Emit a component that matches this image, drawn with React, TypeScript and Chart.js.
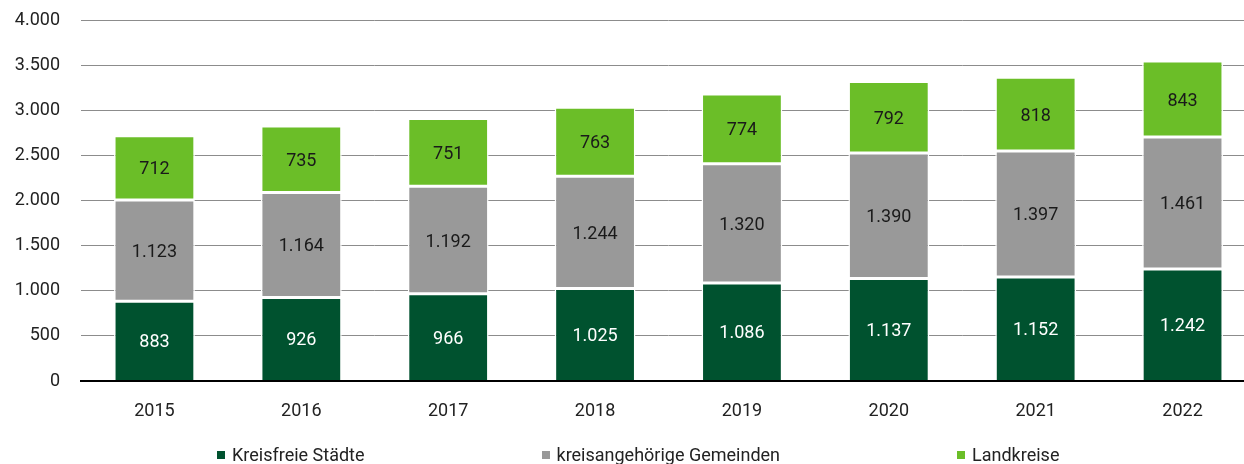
import React, { useEffect, useRef } from "react";
import { Chart, registerables } from "chart.js";

Chart.register(...registerables);

const years = ["2015", "2016", "2017", "2018", "2019", "2020", "2021", "2022"];
const kreisfreieStaedte = [883, 926, 966, 1025, 1086, 1137, 1152, 1242];
const kreisangehoerigeGemeinden = [1123, 1164, 1192, 1244, 1320, 1390, 1397, 1461];
const landkreise = [712, 735, 751, 763, 774, 792, 818, 843];
const seriesNames = ["Kreisfreie Städte", "kreisangehörige Gemeinden", "Landkreise"];
const seriesColors = ["#00522f", "#999999", "#6bbe28"];
const labelColors = ["#ffffff", "#1a1a1a", "#1a1a1a"];

const fmt = (v: number) => String(Math.round(v)).replace(/\B(?=(\d{3})+(?!\d))/g, ".");

const FONT = "Roboto, 'DejaVu Sans', sans-serif";

const dataLabelPlugin = {
  id: "segLabels",
  afterDatasetsDraw(chart: any) {
    const ctx = chart.ctx;
    ctx.save();
    ctx.font = `18px ${FONT}`;
    ctx.textAlign = "center";
    ctx.textBaseline = "middle";
    chart.data.datasets.forEach((ds: any, di: number) => {
      const meta = chart.getDatasetMeta(di);
      meta.data.forEach((bar: any, i: number) => {
        const y = (bar.y + bar.base) / 2;
        ctx.fillStyle = labelColors[di];
        ctx.fillText(fmt(ds.data[i]), bar.x, y + 2);
      });
    });
    ctx.restore();
  },
};

export default function App() {
  const ref = useRef<HTMLCanvasElement | null>(null);
  useEffect(() => {
    if (!ref.current) return;
    const chart = new Chart(ref.current, {
      type: "bar",
      data: {
        labels: years,
        datasets: [kreisfreieStaedte, kreisangehoerigeGemeinden, landkreise].map((d, i) => ({
          label: seriesNames[i],
          data: d,
          backgroundColor: seriesColors[i],
          borderColor: "#ffffff",
          borderWidth: 1.5,
          borderSkipped: i === 0 ? "bottom" : false,
          barPercentage: 0.55,
          categoryPercentage: 1,
        })),
      },
      options: {
        responsive: false,
        animation: false,
        maintainAspectRatio: false,
        layout: { autoPadding: false, padding: { left: 0, right: 0, top: 20, bottom: 43 } },
        plugins: { legend: { display: false }, title: { display: false }, tooltip: { enabled: false } },
        scales: {
          x: {
            stacked: true,
            grid: { display: false, drawTicks: false },
            border: { display: true, color: "#000000", width: 2, z: 1 },
            ticks: { color: "#222222", font: { family: FONT, size: 18 }, padding: 20, maxRotation: 0 },
            afterFit: (s: any) => { s.height = 40; s.paddingLeft = 0; s.paddingRight = 0; },
          },
          y: {
            stacked: true,
            min: 0,
            max: 4000,
            grid: { color: "#8c8c8c", lineWidth: 1, drawTicks: false },
            border: { display: false },
            ticks: {
              stepSize: 500,
              color: "#222222",
              font: { family: FONT, size: 18 },
              padding: 21,
              callback: (v: any) => fmt(Number(v)),
            },
            afterFit: (s: any) => { s.width = 81; s.paddingTop = 0; s.paddingBottom = 0; },
          },
        },
      },
      plugins: [dataLabelPlugin],
    });
    return () => chart.destroy();
  }, []);

  const legendItem = (i: number) => (
    <div key={i} style={{ display: "flex", alignItems: "center" }}>
      <span style={{ display: "inline-block", width: 8, height: 8, background: seriesColors[i], marginRight: 7 }} />
      <span>{seriesNames[i]}</span>
    </div>
  );

  return (
    <div style={{ position: "absolute", left: 0, top: 0, width: 1244, height: 464, overflow: "hidden", background: "#fff" }}>
      <canvas ref={ref} width={1256} height={464} style={{ display: "block" }} />
      <div
        style={{
          position: "absolute",
          left: 217,
          top: 444,
          display: "flex",
          gap: 177,
          fontFamily: FONT,
          fontSize: 18,
          color: "#222",
          lineHeight: "21px",
        }}
      >
        {[0, 1, 2].map(legendItem)}
      </div>
    </div>
  );
}
